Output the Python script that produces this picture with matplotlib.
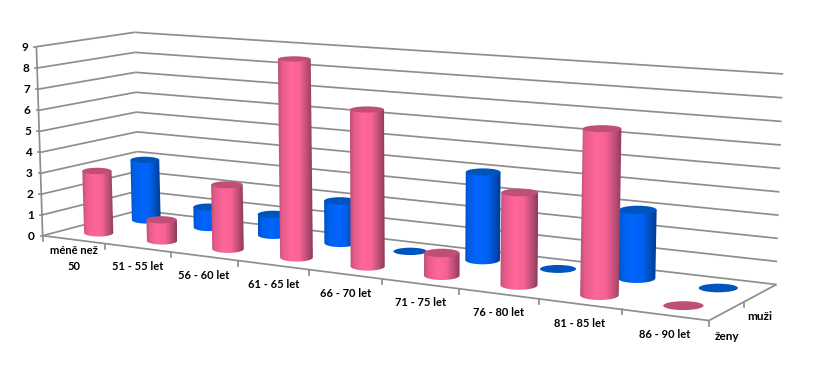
import numpy as np
import matplotlib
matplotlib.use("Agg")
import matplotlib.pyplot as plt
from matplotlib.path import Path
from matplotlib.patches import PathPatch, Ellipse
from matplotlib.colors import LinearSegmentedColormap

categories = ["méně než\n50", "51 - 55 let", "56 - 60 let", "61 - 65 let", "66 - 70 let",
              "71 - 75 let", "76 - 80 let", "81 - 85 let", "86 - 90 let"]
series_names = ["ženy", "muži"]
zeny = [3, 1, 3, 9, 7, 1, 4, 7, 0]
muzi = [3, 1, 1, 2, 0, 4, 0, 3, 0]
y_ticks = list(range(0, 10))

plt.rcParams["font.family"] = ["Lato", "DejaVu Sans"]
plt.rcParams["font.weight"] = "bold"

fig = plt.figure(figsize=(8.28, 3.75), dpi=100, facecolor="white")
ax = fig.add_axes([0, 0, 1, 1])
ax.axis("off")

# Camera calibration: (category, depth, value) -> picture position
world = [(0, 0, 0), (0, 1, 0), (9, 0, 0), (9, 1, 0), (0, 0, 9), (0, 1, 9), (9, 1, 9)]
pict = [(43, 235), (138.5, 211), (709, 321), (776.5, 284), (36, 47), (135, 32), (783, 74)]
rows = []
rhs = []
for (X, Y, Z), (u, v) in zip(world, pict):
    rows.append([X, Y, Z, 1, 0, 0, 0, 0, -u * X, -u * Y, -u * Z])
    rows.append([0, 0, 0, 0, X, Y, Z, 1, -v * X, -v * Y, -v * Z])
    rhs += [u, v]
sol = np.linalg.lstsq(np.array(rows, float), np.array(rhs, float), rcond=None)[0]
P = np.append(sol, 1.0).reshape(3, 4)


def proj(x, y, z):
    h = P @ np.array([x, y, z, 1.0])
    return h[0] / h[2], h[1] / h[2]


GRID = "#8e8e8e"
LW = 1.25
n = len(categories)
zmax = y_ticks[-1]


def seg(a, b, **kw):
    pa, pb = proj(*a), proj(*b)
    ax.plot([pa[0], pb[0]], [pa[1], pb[1]], color=GRID, lw=LW, solid_capstyle="butt", zorder=1, **kw)


# walls and gridlines
for t in y_ticks:
    seg((0, 0, t), (0, 1, t))
    seg((0, 1, t), (n, 1, t))
    p = proj(0, 0, t)
    ax.plot([p[0] - 2, p[0]], [p[1], p[1]], color=GRID, lw=LW, zorder=1)
    ax.text(p[0] - 8, p[1] + 0.5, str(t), ha="right", va="center", fontsize=8.5, color="black")
seg((0, 0, 0), (0, 0, zmax))
seg((0, 0, 0), (n, 0, 0))
seg((n, 0, 0), (n, 1, 0))

# category ticks and labels
for i in range(n + 1):
    p = proj(i, 0, 0)
    ax.plot([p[0], p[0]], [p[1], p[1] + 5], color=GRID, lw=LW, zorder=1)
for i, c in enumerate(categories):
    a, b = proj(i, 0, 0), proj(i + 1, 0, 0)
    ax.text((a[0] + b[0]) / 2 - 0.5, (a[1] + b[1]) / 2 + 19, c, ha="center", va="center",
            fontsize=8, color="black", linespacing=1.55)

# depth axis ticks and labels
p = proj(n, 0.5, 0)
ax.plot([p[0], p[0]], [p[1], p[1] + 5], color=GRID, lw=LW, zorder=1)
ax.text(727, 336, series_names[0], ha="center", va="center", fontsize=8.5, color="black")
ax.text(760, 317, series_names[1], ha="center", va="center", fontsize=8.5, color="black")

pink = LinearSegmentedColormap.from_list("p", [(0, "#bd4f78"), (0.12, "#e65c8c"), (0.38, "#ff6699"),
                                               (0.62, "#f76395"), (0.85, "#b84d75"), (1, "#8c3a5a")])
blue = LinearSegmentedColormap.from_list("b", [(0, "#0052c4"), (0.12, "#005fe8"), (0.38, "#0066ff"),
                                               (0.62, "#0062f4"), (0.85, "#004cb8"), (1, "#003a8c")])
RAD = 0.235
z_order = [10]


def cylinder(i, depth, val, cmap, capc):
    cx, by = proj(i + 0.5, depth, 0)
    tx, ty = proj(i + 0.5, depth, val)
    lx, _ = proj(i + 0.5 - RAD, depth, 0)
    rx, _ = proj(i + 0.5 + RAD, depth, 0)
    w = rx - lx
    z_order[0] += 1
    zo = z_order[0]
    if val > 0:
        hb = w * 0.25
        ht = w * (0.25 - 0.01 * val)
        tlx, trx = tx - w / 2, tx + w / 2
        th = np.linspace(np.pi, 0, 40)
        arcx = cx + w / 2 * np.cos(th)
        arcy = by + hb / 2 * np.sin(th)
        verts = [(tlx, ty)] + list(zip(arcx, arcy)) + [(trx, ty), (tlx, ty)]
        codes = [Path.MOVETO] + [Path.LINETO] * (len(verts) - 2) + [Path.CLOSEPOLY]
        patch = PathPatch(Path(verts, codes), fc="none", ec="none", transform=ax.transData)
        ax.add_patch(patch)
        grad = np.linspace(0, 1, 128).reshape(1, -1)
        im = ax.imshow(grad, cmap=cmap, extent=[min(tlx, cx - w / 2), max(trx, cx + w / 2), by + hb, ty],
                       aspect="auto", interpolation="bilinear", zorder=zo, vmin=0, vmax=1)
        im.set_clip_path(patch)
        ax.add_patch(Ellipse((tx, ty), w, ht, fc=capc, ec="none", zorder=zo + 0.5))
    else:
        ax.add_patch(Ellipse((cx, by), w, w * 0.22, fc=capc, ec="none", zorder=zo + 0.5))


for i in range(n):
    cylinder(i, 0.75, muzi[i], blue, "#0054be")
for i in range(n):
    cylinder(i, 0.25, zeny[i], pink, "#bf4f78")

ax.set_xlim(0, 828)
ax.set_ylim(375, 0)
fig.savefig("out.png", dpi=100, facecolor="white")
